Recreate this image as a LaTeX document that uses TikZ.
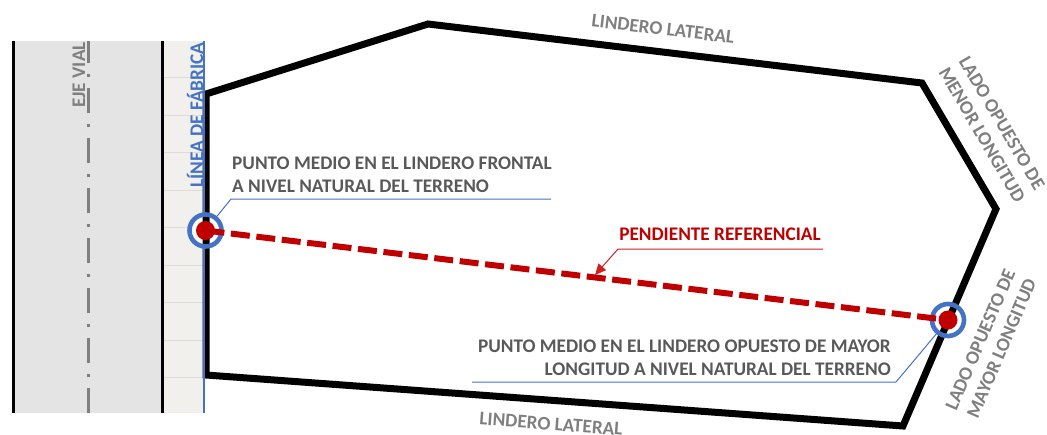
\documentclass[tikz,border=0pt]{standalone}
\usepackage{fontspec}
\setmainfont{Carlito}
\usetikzlibrary{arrows.meta}
\definecolor{txtgray}{HTML}{595959}
\definecolor{lblgray}{HTML}{7F7F7F}
\definecolor{bluec}{HTML}{4472C4}
\definecolor{redc}{HTML}{C00000}
\definecolor{leadred}{HTML}{D02020}
\definecolor{roadc}{HTML}{E4E4E4}
\definecolor{walkc}{HTML}{F2F0EC}
\definecolor{gridc}{HTML}{DEDCD8}
\tikzset{
  lbl/.style={font=\fontsize{19.25}{23}\selectfont\bfseries,inner sep=0pt},
  sidelbl/.style={lbl,text=lblgray,align=center},
  callout/.style={lbl,text=txtgray},
  leader/.style={draw=bluec,line width=1pt},
  ring/.style={circle,draw=bluec,line width=4.6pt,minimum size=32pt,inner sep=0pt},
  dotn/.style={circle,fill=redc,minimum size=19pt,inner sep=0pt},
  lotline/.style={black,line width=7pt,line join=miter},
}
\newcommand{\lotpath}{(206,94) -- (428,24) -- (922,83) -- (996,209) -- (903,426) -- (206,375) -- cycle}
\begin{document}
\begin{tikzpicture}[x=1pt,y=-1pt]
\useasboundingbox (0,0) rectangle (1047,434);
% road and sidewalk
\fill[roadc] (13,41) rectangle (162,413);
\fill[walkc] (162,41) rectangle (204,413);
\foreach \yy in {77,115,152,190,227,265,302,340,377}
  \draw[gridc,line width=0.7pt] (163,\yy) -- (204,\yy);
\draw[black,line width=3pt] (13,41) -- (13,413);
\draw[black,line width=3pt] (162,41) -- (162,413);
\draw[lblgray,line width=3pt,dash pattern=on 25pt off 11pt on 3pt off 11pt] (88,413) -- (88,41);
% lot
\draw[lotline] \lotpath;
\draw[bluec,line width=1.2pt] (204,41) -- (204,413);
% markers
\fill[white] (205.5,230.5) circle (16pt);
\fill[white] (948,320) circle (16pt);
\begin{scope}
  \clip (948,320) circle (16pt);
  \draw[lotline] \lotpath;
\end{scope}
\begin{scope}
  \clip (205.5,230.5) circle (16pt);
  \draw[lotline] \lotpath;
\end{scope}
\node[ring] (ringA) at (205.5,230.5) {};
\node[ring] (ringB) at (948,320) {};
\draw[redc,line width=6pt,dash pattern=on 19pt off 6.6pt] (205.5,230.5) -- (948,320);
\node[dotn] (dotA) at (205.5,230.5) {};
\node[dotn] (dotB) at (948,320) {};
% leaders
\coordinate (kA) at (231,199);
\coordinate (eA) at (551,199);
\coordinate (kB) at (896,382);
\coordinate (eB) at (472,382);
\coordinate (kC) at (618,249);
\coordinate (eC) at (823,249);
\coordinate (tipC) at (595,275);
\draw[leader] (eA) -- (kA) -- (ringA);
\draw[leader] (eB) -- (kB) -- (ringB);
\draw[draw=leadred,line width=1pt,-{Triangle[length=11pt,width=10pt]}] (eC) -- (kC) -- (tipC);
% labels
\node[lbl,text=lblgray,rotate=90] (ejevial) at (79,75) {EJE VIAL};
\node[lbl,text=bluec,rotate=90] (linea) at (195,115) {LÍNEA DE FÁBRICA};
\node[callout,align=left,anchor=west] (ptA) at (232,175) {PUNTO MEDIO EN EL LINDERO FRONTAL\\A NIVEL NATURAL DEL TERRENO};
\node[callout,align=right,anchor=east] (ptB) at (891,358) {PUNTO MEDIO EN EL LINDERO OPUESTO DE MAYOR\\LONGITUD A NIVEL NATURAL DEL TERRENO};
\node[lbl,text=redc] (pend) at (720,234) {PENDIENTE REFERENCIAL};
\node[sidelbl,rotate=-6.8] (latT) at (663,29) {LINDERO LATERAL};
\node[sidelbl,rotate=-4.2] (latB) at (551,424) {LINDERO LATERAL};
\node[sidelbl,rotate=-59.6] (menor) at (992,129) {LADO OPUESTO DE\\MENOR LONGITUD};
\node[sidelbl,rotate=66.8] (mayor) at (991,344) {LADO OPUESTO DE\\MAYOR LONGITUD};
\end{tikzpicture}
\end{document}
